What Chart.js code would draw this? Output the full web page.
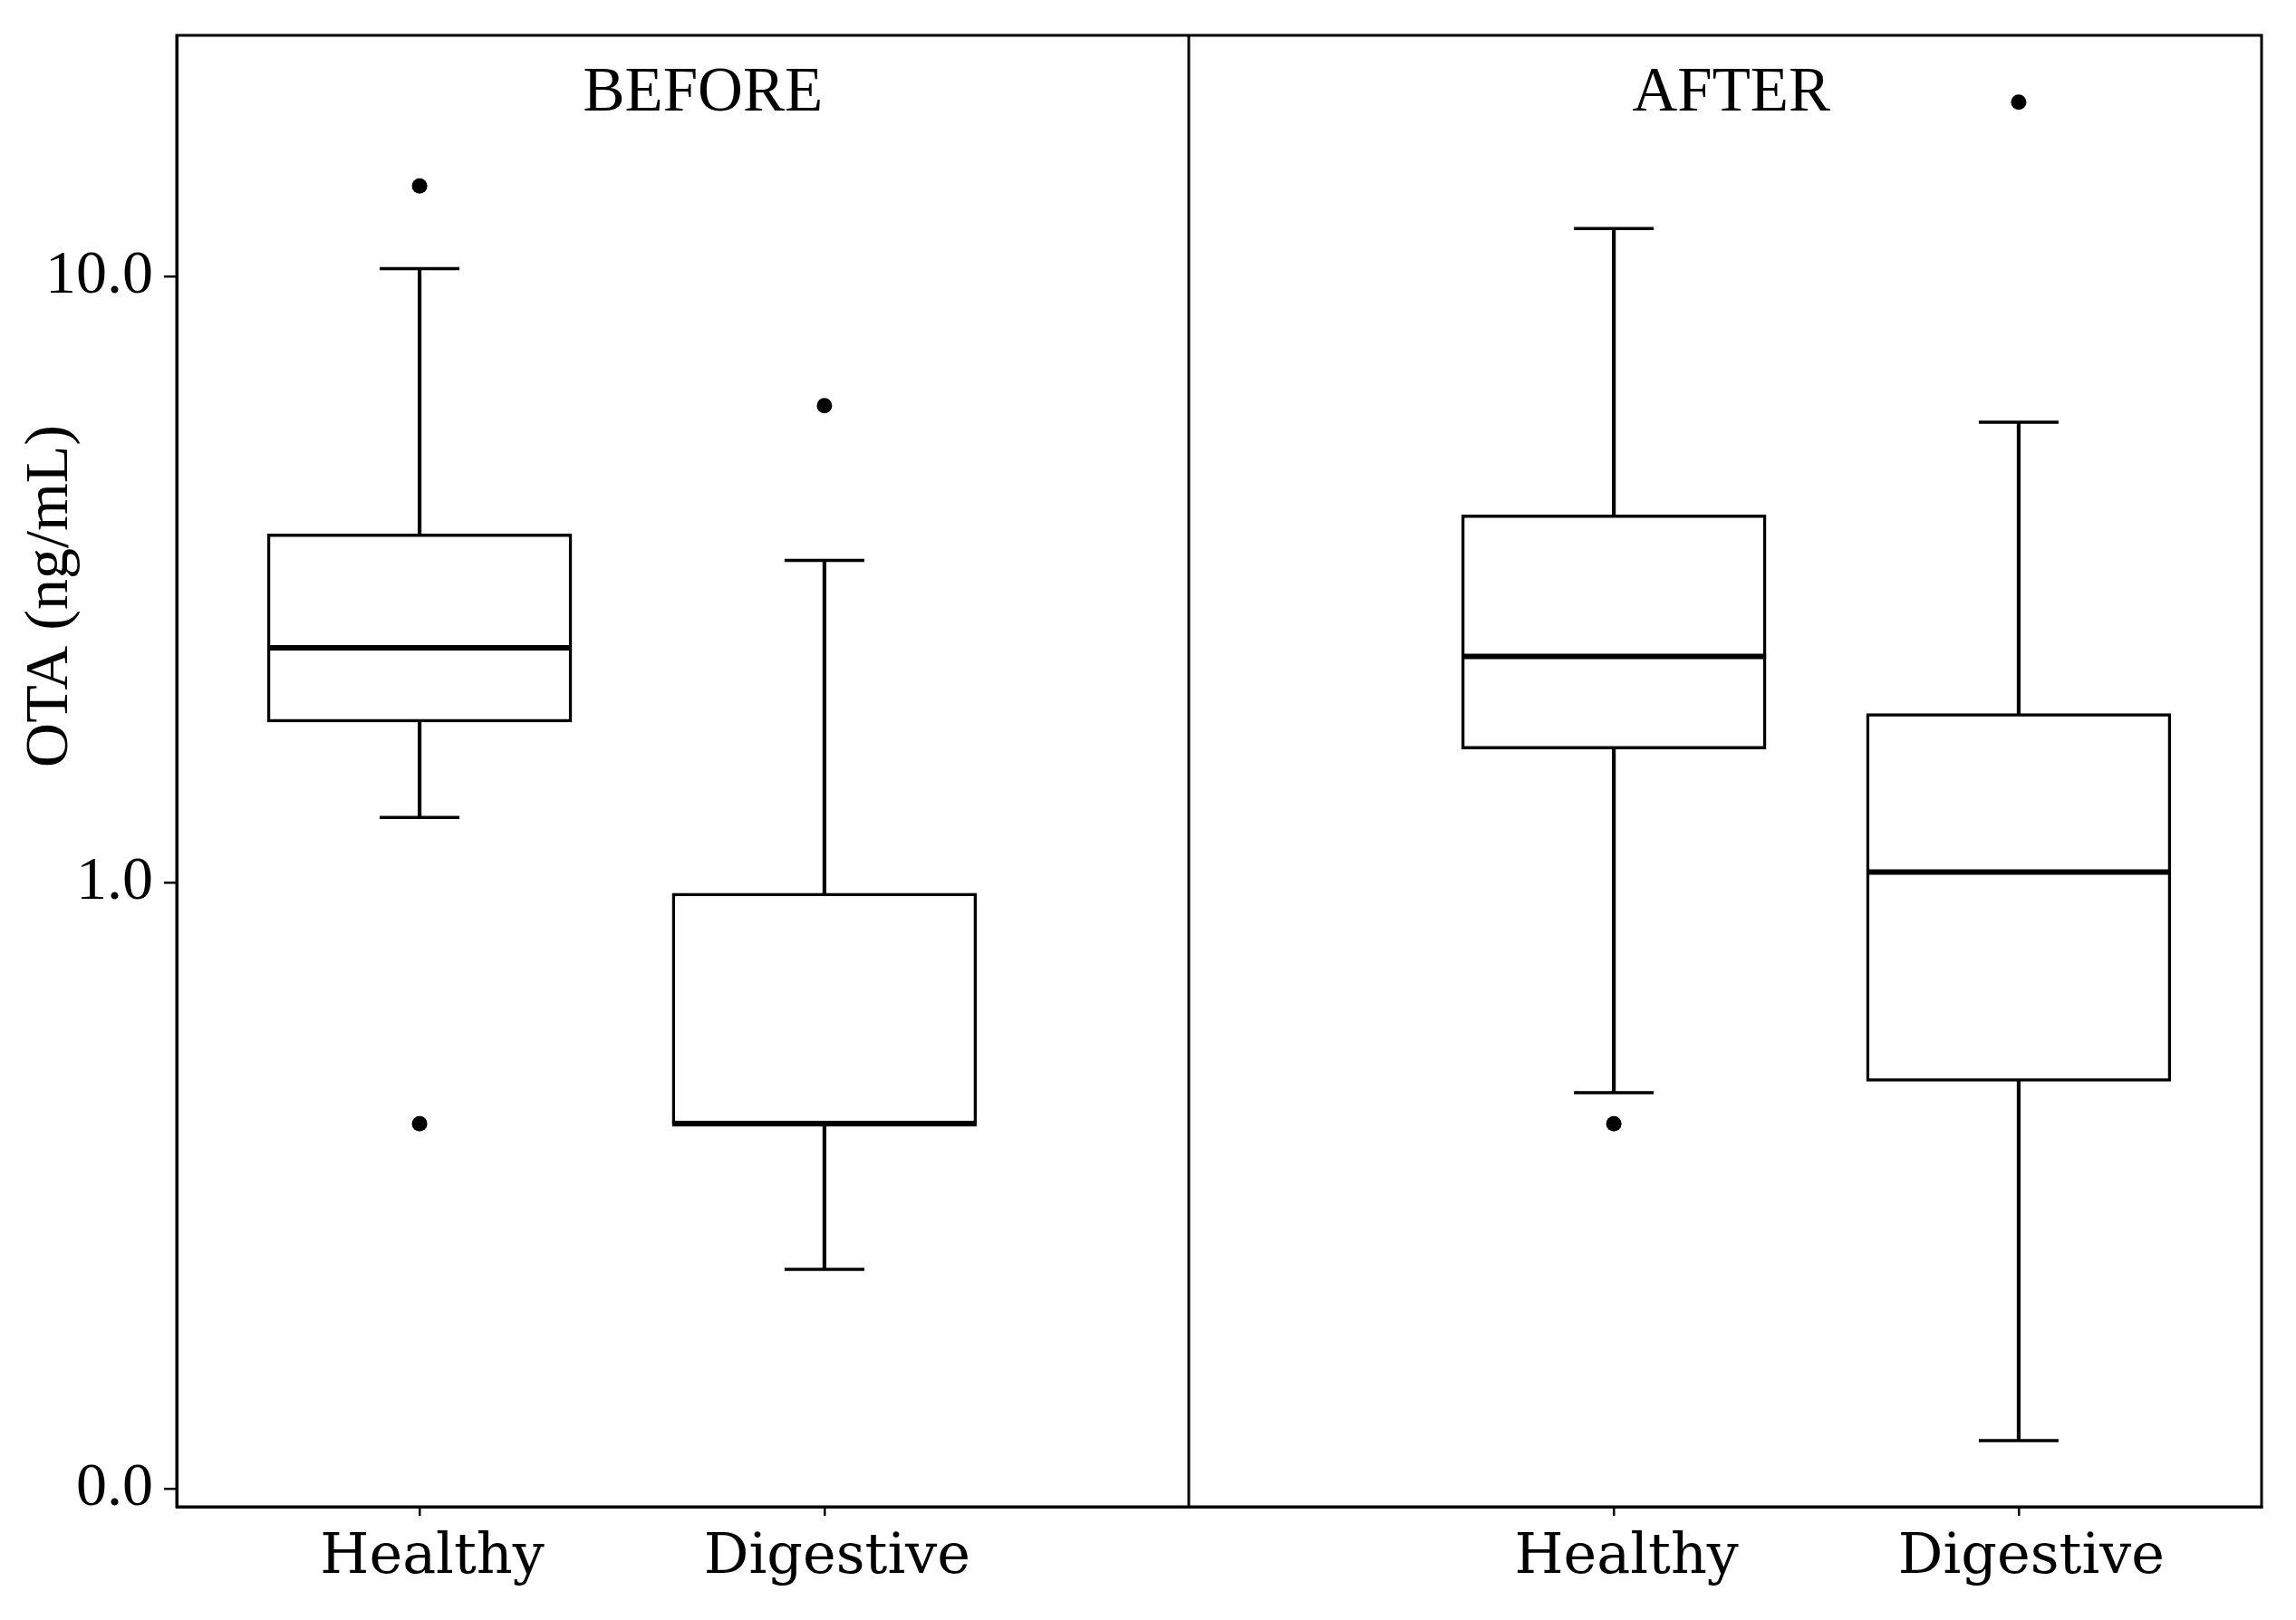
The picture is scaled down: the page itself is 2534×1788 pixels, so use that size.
<!DOCTYPE html>
<html><head><meta charset="utf-8">
<script src="https://cdn.jsdelivr.net/npm/chart.js@4.4.1/dist/chart.umd.min.js"></script>
<style>html,body{margin:0;padding:0;background:#fff;overflow:hidden;} #wrap{width:2534px;height:1788px;}</style>
</head><body><div id="wrap"><canvas id="c" width="2534" height="1788"></canvas></div>
<script>
// ---- data ----
const phases = ['BEFORE', 'AFTER'];
const categories = ['Healthy', 'Digestive'];
const boxPhase = [0, 0, 1, 1];
const boxCategory = [0, 1, 0, 1];
const whiskerLow  = [1.28, 0.23, 0.45, 0.12];
const q1          = [1.84, 0.40, 1.66, 0.47];
const median      = [2.44, 0.40, 2.36, 1.04];
const q3          = [3.76, 0.96, 4.04, 1.90];
const whiskerHigh = [10.3, 3.40, 12.0, 5.75];
const outliers    = [[14.1, 0.40], [6.12], [0.40], [19.4]];
const yTickValues = [0.1, 1, 10];
const yTickLabels = ['0.0', '1.0', '10.0'];
const yAxisTitle = 'OTA (ng/mL)';

// ---- layout (axis units) ----
const PHASE_SPACING = 2.95;
const X_MIN = -0.6, X_MAX = 4.55, DIVIDER = 1.9;
const TITLE_X = [0.7, 3.24];
const Y_MIN = 0.0933, Y_MAX = 25.0;

const xPos = boxPhase.map((p, i) => p * PHASE_SPACING + boxCategory[i]);
const xLabels = boxCategory.map(c => categories[c]);

const LINE = 3.5;

const framePlugin = {
  id: 'frame',
  afterDraw(chart) {
    const {ctx, chartArea: a, scales} = chart;
    ctx.save();
    ctx.strokeStyle = '#000';
    ctx.lineWidth = 3;
    ctx.strokeRect(a.left, a.top, a.right - a.left, a.bottom - a.top);
    const dx = scales.x.getPixelForValue(DIVIDER);
    ctx.beginPath();
    ctx.moveTo(dx, a.top);
    ctx.lineTo(dx, a.bottom);
    ctx.stroke();
    // panel titles
    ctx.fillStyle = '#000';
    ctx.font = '69px "Liberation Serif"';
    ctx.textAlign = 'center';
    ctx.textBaseline = 'alphabetic';
    phases.forEach((p, i) => {
      ctx.fillText(p, scales.x.getPixelForValue(TITLE_X[i]), 122);
    });
    // y axis title
    ctx.translate(56, 658);
    ctx.rotate(-Math.PI / 2);
    ctx.textBaseline = 'middle';
    ctx.font = '68px "Liberation Serif"';
    ctx.fillText(yAxisTitle, 0, 0);
    ctx.restore();
  }
};

const outlierPoints = [];
outliers.forEach((arr, i) => arr.forEach(v => outlierPoints.push({x: xPos[i], y: v})));

new Chart(document.getElementById('c'), {
  type: 'bar',
  data: {
    datasets: [
      {
        type: 'scatter',
        order: 0,
        data: outlierPoints,
        pointStyle: 'circle',
        pointRadius: 8.5,
        backgroundColor: '#000',
        borderWidth: 0
      },
      {
        type: 'scatter',
        order: 1,
        data: xPos.map((x, i) => ({x, y: median[i]})),
        pointStyle: 'line',
        pointRadius: 168,
        borderColor: '#000',
        borderWidth: 6
      },
      {
        type: 'scatter',
        order: 1,
        data: xPos.map((x, i) => ({x, y: whiskerHigh[i]})).concat(xPos.map((x, i) => ({x, y: whiskerLow[i]}))),
        pointStyle: 'line',
        pointRadius: 44,
        borderColor: '#000',
        borderWidth: LINE
      },
      {
        type: 'bar',
        order: 2,
        grouped: false,
        data: xPos.map((x, i) => ({x, y: [q1[i], q3[i]]})),
        backgroundColor: '#fff',
        borderColor: '#000',
        borderWidth: LINE,
        borderSkipped: false,
        barThickness: 336
      },
      {
        type: 'bar',
        order: 3,
        grouped: false,
        data: xPos.map((x, i) => ({x, y: [whiskerLow[i], whiskerHigh[i]]})),
        backgroundColor: '#000',
        borderWidth: 0,
        barThickness: LINE
      }
    ]
  },
  options: {
    responsive: false,
    devicePixelRatio: 1,
    animation: false,
    events: [],
    layout: {autoPadding: false, padding: {left: 0, top: 39, right: 38, bottom: 0}},
    plugins: {legend: {display: false}, tooltip: {enabled: false}, title: {display: false}},
    scales: {
      x: {
        type: 'linear',
        min: X_MIN, max: X_MAX,
        bounds: 'data',
        offset: false,
        afterFit(s) { s.height = 125; s.paddingLeft = 0; s.paddingRight = 0; s.paddingTop = 0; s.paddingBottom = 0; },
        afterBuildTicks(s) { s.ticks = xPos.map(v => ({value: v})); },
        grid: {display: true, offset: false, drawOnChartArea: false, drawTicks: true, tickLength: 10, color: '#000', lineWidth: 2.5},
        border: {display: true, color: '#000', width: 3},
        ticks: {
          autoSkip: false, maxRotation: 0, minRotation: 0,
          padding: 10, labelOffset: 14,
          color: '#000',
          font: {family: '"DejaVu Serif"', size: 62},
          callback: (v, i) => xLabels[i]
        }
      },
      y: {
        type: 'logarithmic',
        min: Y_MIN, max: Y_MAX,
        bounds: 'data',
        offset: false,
        afterFit(s) { s.width = 195; s.paddingTop = 0; s.paddingBottom = 0; s.paddingLeft = 0; s.paddingRight = 0; },
        afterBuildTicks(s) { s.ticks = yTickValues.map(v => ({value: v})); },
        grid: {display: true, offset: false, drawOnChartArea: false, drawTicks: true, tickLength: 14, color: '#000', lineWidth: 2.5},
        border: {display: true, color: '#000', width: 3},
        ticks: {
          padding: 12,
          color: '#000',
          font: {family: '"Liberation Serif"', size: 68},
          callback: (v, i) => yTickLabels[i]
        }
      }
    }
  },
  plugins: [framePlugin]
});
</script>
</body></html>
